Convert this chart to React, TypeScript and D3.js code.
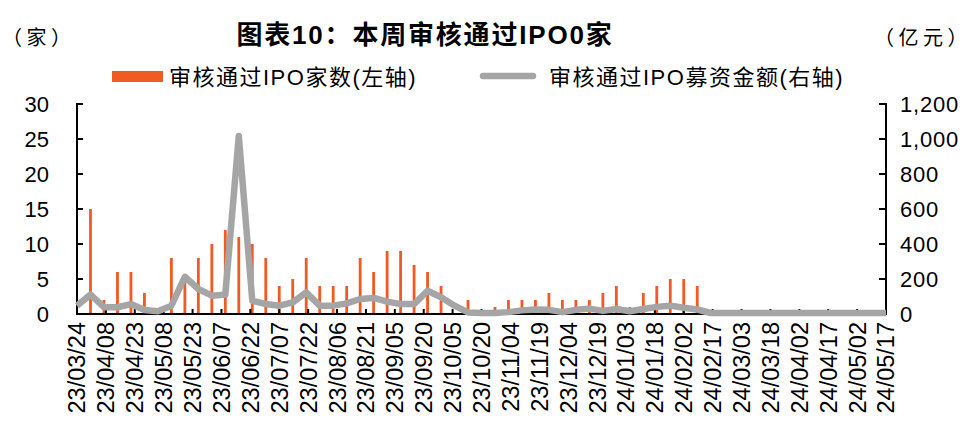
import React, { useEffect, useRef } from 'react';
import * as d3 from 'd3';

// weekly dates (yy/mm/dd)
const weeks = [
  '23/03/24', '23/03/31', '23/04/07', '23/04/14', '23/04/21', '23/04/28', '23/05/05', '23/05/12', '23/05/19', '23/05/26',
  '23/06/02', '23/06/09', '23/06/16', '23/06/23', '23/06/30', '23/07/07', '23/07/14', '23/07/21', '23/07/28', '23/08/04',
  '23/08/11', '23/08/18', '23/08/25', '23/09/01', '23/09/08', '23/09/15', '23/09/22', '23/09/29', '23/10/06', '23/10/13',
  '23/10/20', '23/10/27', '23/11/03', '23/11/10', '23/11/17', '23/11/24', '23/12/01', '23/12/08', '23/12/15', '23/12/22',
  '23/12/29', '24/01/05', '24/01/12', '24/01/19', '24/01/26', '24/02/02', '24/02/09', '24/02/16', '24/02/23', '24/03/01',
  '24/03/08', '24/03/15', '24/03/22', '24/03/29', '24/04/05', '24/04/12', '24/04/19', '24/04/26', '24/05/03', '24/05/10',
  '24/05/17'
];

// 审核通过IPO家数 (left axis)
const ipoCount = [
  0, 15, 2, 6, 6, 3, 0, 8, 5, 8,
  10, 12, 11, 10, 8, 4, 5, 8, 4, 4,
  4, 8, 6, 9, 9, 7, 6, 4, 0, 2,
  0, 1, 2, 2, 2, 3, 2, 2, 2, 3,
  4, 1, 3, 4, 5, 5, 4, 0, 0, 0,
  0, 0, 0, 0, 0, 0, 0, 0, 0, 0,
  0
];

// 审核通过IPO募资金额 (亿元, right axis)
const ipoAmount = [
  42, 105, 33, 33, 51, 17, 10, 42, 207, 137,
  99, 105, 1012, 70, 51, 42, 61, 118, 42, 42,
  55, 80, 86, 65, 51, 51, 127, 90, 42, 3,
  0, 0, 5, 15, 20, 18, 5, 18, 25, 12,
  23, 10, 23, 35, 42, 30, 20, 0, 0, 0,
  0, 0, 0, 0, 0, 0, 0, 0, 0, 0,
  0
];

const xTickLabels = [
  '23/03/24', '23/04/08', '23/04/23', '23/05/08', '23/05/23', '23/06/07', '23/06/22', '23/07/07',
  '23/07/22', '23/08/06', '23/08/21', '23/09/05', '23/09/20', '23/10/05', '23/10/20', '23/11/04',
  '23/11/19', '23/12/04', '23/12/19', '24/01/03', '24/01/18', '24/02/02', '24/02/17', '24/03/03',
  '24/03/18', '24/04/02', '24/04/17', '24/05/02', '24/05/17'
];
const leftTicks = [0, 5, 10, 15, 20, 25, 30];
const rightTicks = [0, 200, 400, 600, 800, 1000, 1200];

const parseDate = d3.timeParse('%y/%m/%d');

const W = 973;
const H = 425;
const LATIN = "'Liberation Sans', Arial, 'Noto Sans CJK SC', sans-serif";

const App: React.FC = () => {
  const svgRef = useRef<SVGSVGElement>(null);

  useEffect(() => {
    if (!svgRef.current) return;
    const svg = d3.select(svgRef.current);
    svg.selectAll('*').remove();

    const left = 77, right = 886, top = 104, bottom = 314;

    const x = d3.scaleTime()
      .domain([parseDate(weeks[0])!, parseDate(weeks[weeks.length - 1])!])
      .range([left, right]);
    const yL = d3.scaleLinear().domain([0, 30]).range([bottom, top]);
    const yR = d3.scaleLinear().domain([0, 1200]).range([bottom, top]);

    const data = weeks.map((w, i) => ({ date: parseDate(w)!, count: ipoCount[i], amount: ipoAmount[i] }));

    // bars
    svg.append('g')
      .selectAll('rect')
      .data(data.filter(d => d.count > 0))
      .enter()
      .append('rect')
      .attr('x', d => x(d.date) - 1.4)
      .attr('width', 2.8)
      .attr('y', d => yL(d.count))
      .attr('height', d => bottom - yL(d.count))
      .attr('fill', '#F05A23');

    // axes
    const axes = svg.append('g').attr('stroke', '#000');
    axes.append('line').attr('x1', left).attr('x2', left).attr('y1', top - 1).attr('y2', bottom + 1).attr('stroke-width', 2);
    axes.append('line').attr('x1', right).attr('x2', right).attr('y1', top - 1).attr('y2', bottom + 1).attr('stroke-width', 2);
    axes.append('line').attr('x1', left).attr('x2', right + 1).attr('y1', bottom).attr('y2', bottom).attr('stroke-width', 2);
    leftTicks.forEach(t => {
      axes.append('line').attr('x1', left).attr('x2', left + 6).attr('y1', yL(t)).attr('y2', yL(t)).attr('stroke-width', 2);
    });
    rightTicks.forEach(t => {
      axes.append('line').attr('x1', right - 7).attr('x2', right).attr('y1', yR(t)).attr('y2', yR(t)).attr('stroke-width', 2);
    });
    xTickLabels.forEach(t => {
      const px = x(parseDate(t)!);
      axes.append('line').attr('x1', px).attr('x2', px).attr('y1', bottom).attr('y2', bottom - 5).attr('stroke-width', 2);
    });

    // line
    const line = d3.line<typeof data[0]>()
      .x(d => x(d.date))
      .y(d => yR(d.amount) - 1)
      .curve(d3.curveLinear);
    svg.append('path')
      .datum(data)
      .attr('d', line)
      .attr('fill', 'none')
      .attr('stroke', '#A5A5A5')
      .attr('stroke-width', 6.5)
      .attr('stroke-linejoin', 'round');

    // tick labels
    const lbl = svg.append('g').attr('font-family', LATIN).attr('fill', '#000');
    leftTicks.forEach(t => {
      lbl.append('text').attr('x', 49).attr('y', yL(t)).attr('dy', '0.36em')
        .attr('text-anchor', 'end').attr('font-size', 22).text(d3.format(',')(t));
    });
    rightTicks.forEach(t => {
      lbl.append('text').attr('x', 900).attr('y', yR(t)).attr('dy', '0.36em')
        .attr('text-anchor', 'start').attr('font-size', 22).attr('letter-spacing', 0.8)
        .text(d3.format(',')(t));
    });
    xTickLabels.forEach(t => {
      const px = x(parseDate(t)!);
      lbl.append('text')
        .attr('transform', `translate(${px},322) rotate(-90)`)
        .attr('dy', '0.36em')
        .attr('text-anchor', 'end')
        .attr('font-size', 23.5)
        .text(t);
    });

    // title and units
    svg.append('text').attr('x', 425).attr('y', 44).attr('text-anchor', 'middle')
      .attr('font-family', LATIN).attr('font-weight', 'bold').attr('font-size', 26)
      .attr('letter-spacing', 1.8)
      .text('图表10：本周审核通过IPO0家');
    svg.append('text').attr('x', 2).attr('y', 45)
      .attr('font-family', LATIN).attr('font-size', 20).attr('letter-spacing', 4.5).text('（家）');
    svg.append('text').attr('x', 874).attr('y', 45)
      .attr('font-family', LATIN).attr('font-size', 20).attr('letter-spacing', 4.5).text('（亿元）');

    // legend
    svg.append('rect').attr('x', 112).attr('y', 71).attr('width', 51).attr('height', 11).attr('fill', '#F05A23');
    svg.append('text').attr('x', 169).attr('y', 77).attr('dy', '0.36em')
      .attr('font-family', LATIN).attr('font-size', 22).attr('letter-spacing', 1.5).text('审核通过IPO家数(左轴)');
    svg.append('line').attr('x1', 483).attr('x2', 533).attr('y1', 76).attr('y2', 76)
      .attr('stroke', '#A5A5A5').attr('stroke-width', 6.5).attr('stroke-linecap', 'round');
    svg.append('text').attr('x', 549).attr('y', 77).attr('dy', '0.36em')
      .attr('font-family', LATIN).attr('font-size', 22).attr('letter-spacing', 1.5).text('审核通过IPO募资金额(右轴)');
  }, []);

  return (
    <svg
      ref={svgRef}
      width={W}
      height={H}
      style={{ position: 'absolute', left: 0, top: 0, background: '#fff' }}
    />
  );
};

export default App;
